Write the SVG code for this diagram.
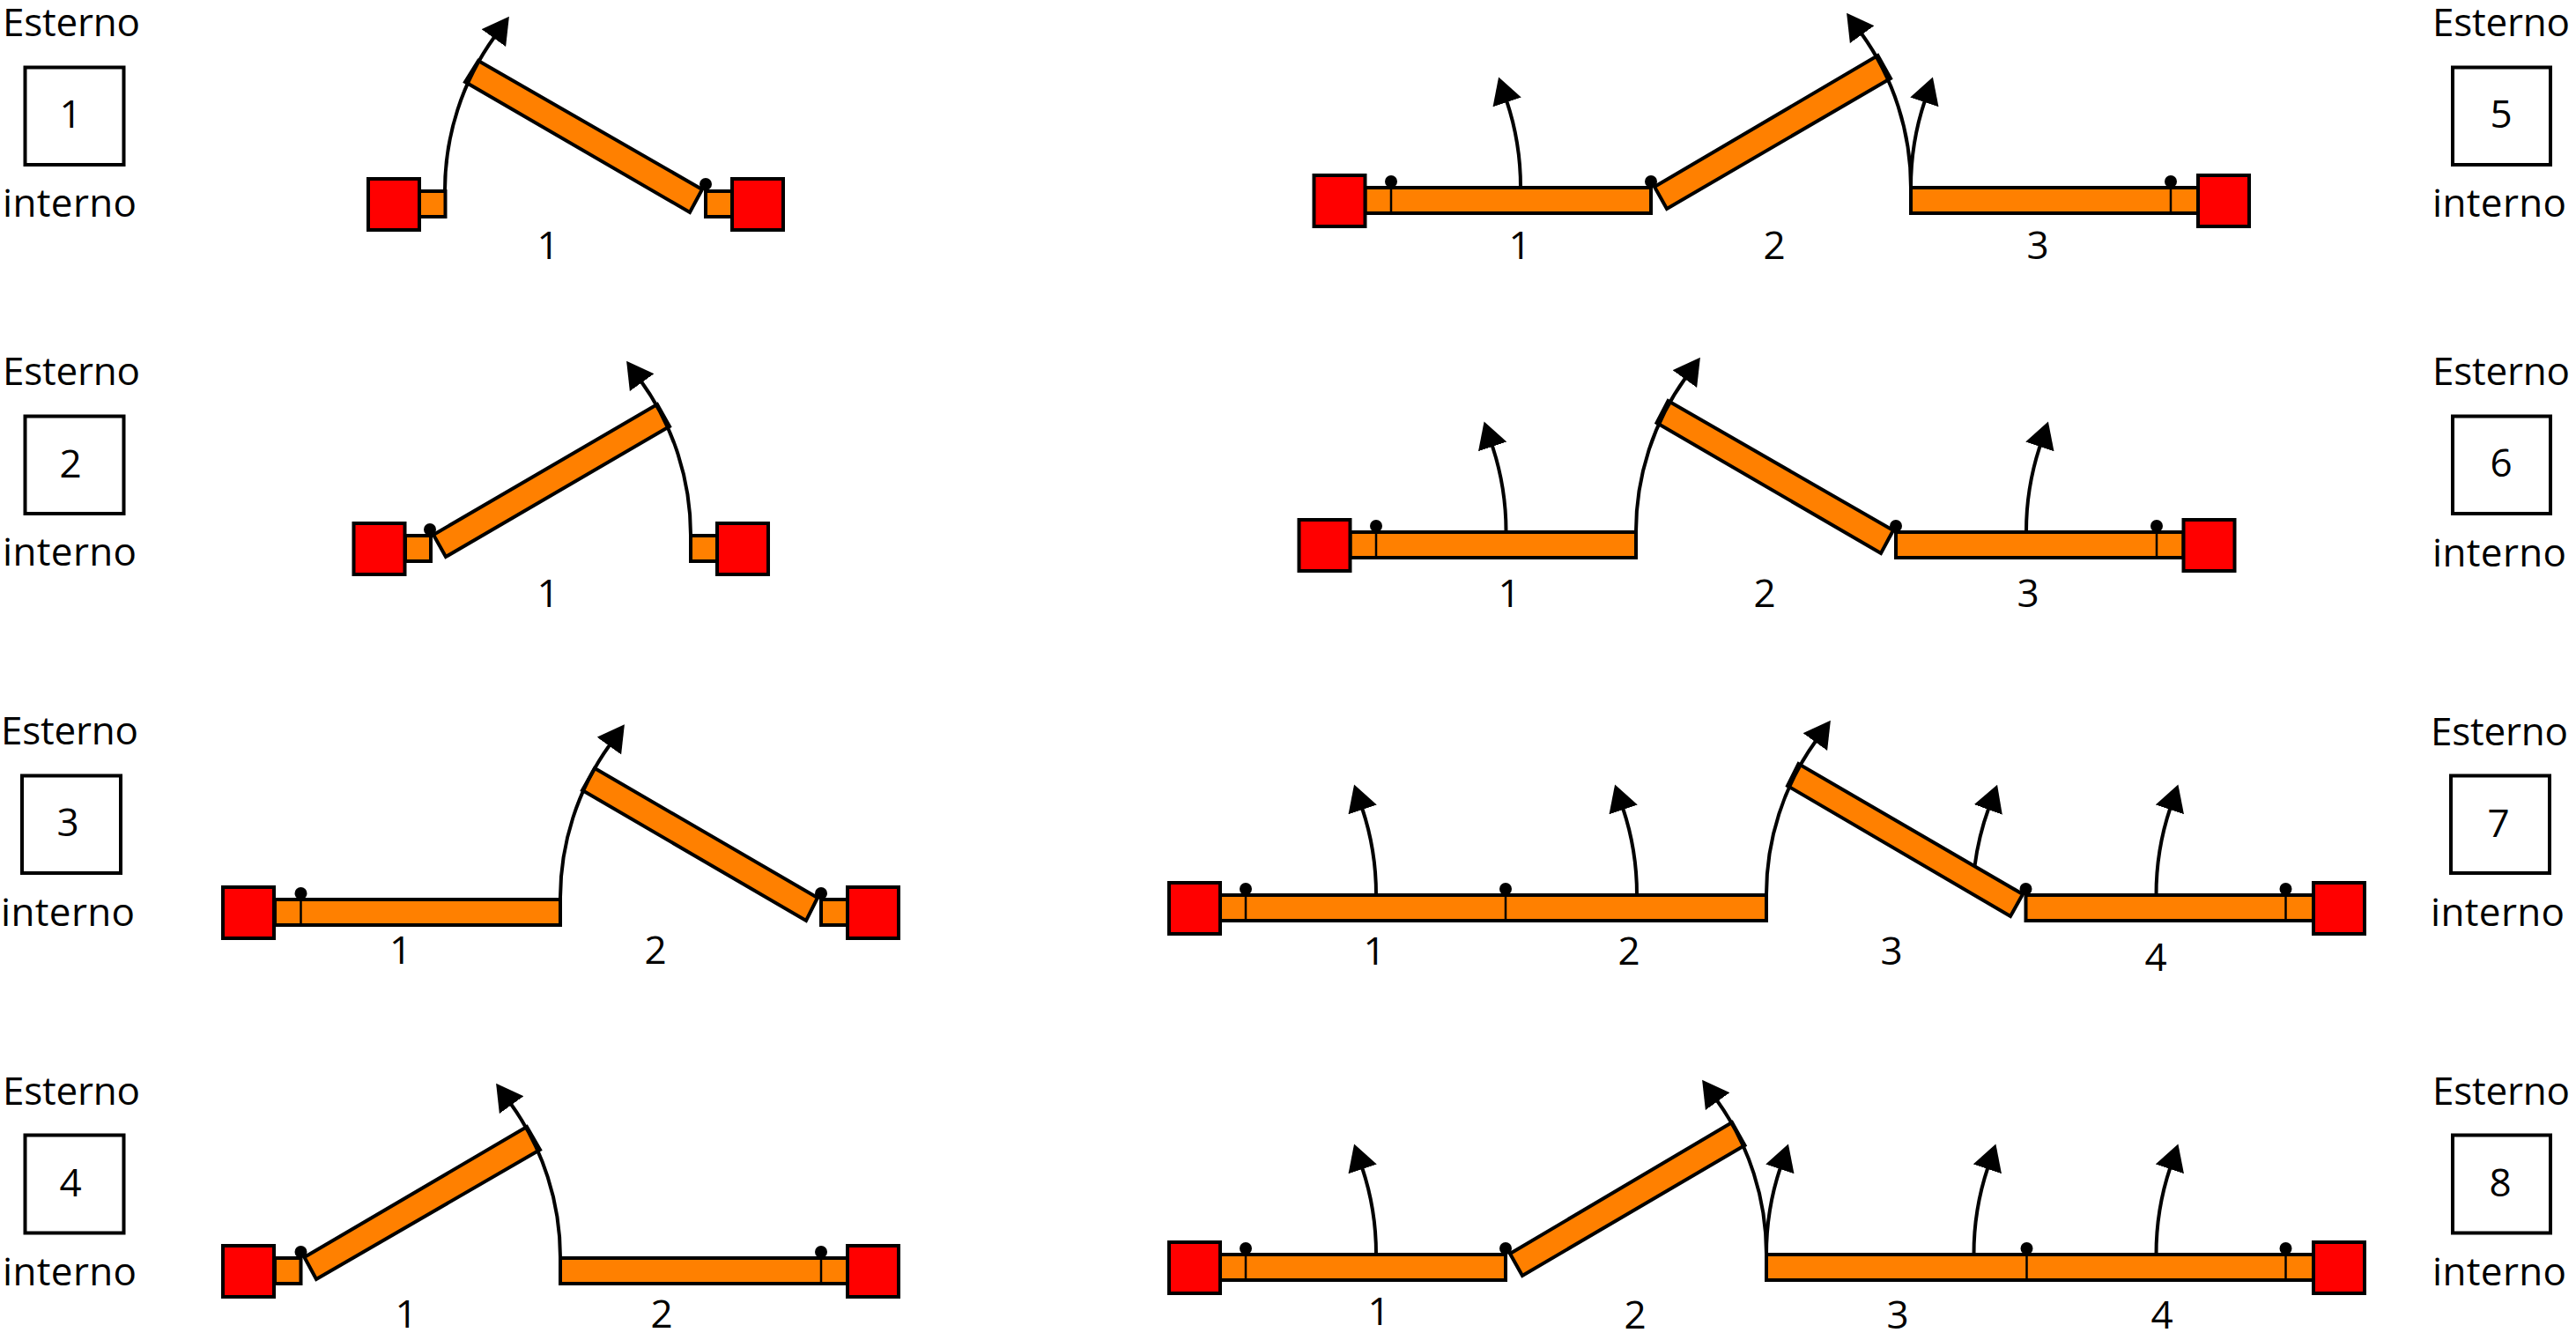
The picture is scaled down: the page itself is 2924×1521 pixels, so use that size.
<svg xmlns="http://www.w3.org/2000/svg" width="2924" height="1521" viewBox="0 0 2924 1521">
<style>
text{font-family:"Open Sans","Noto Sans","Liberation Sans",sans-serif;font-size:44px;fill:#000}
.c{text-anchor:middle}
.b{fill:#fff;stroke:#000;stroke-width:4}
.r{fill:#f00;stroke:#000;stroke-width:4;width:58px;height:58px}
.o{fill:#ff8000;stroke:#000;stroke-width:4;height:29px}
.d{fill:#ff8000;stroke:#000;stroke-width:4;stroke-linejoin:miter}
.h{stroke:#000;stroke-width:2.5;fill:none}
.p{fill:#000}
.a{fill:none;stroke:#000;stroke-width:4;marker-end:url(#ah)}
</style>
<defs>
<marker id="ah" markerUnits="userSpaceOnUse" markerWidth="36" markerHeight="36" refX="2" refY="17" orient="auto">
<path d="M0 0L30 17L0 34Z" fill="#000"/>
</marker>
</defs>
<g id="panel-1">
<text x="3" y="41" textLength="156">Esterno</text><rect class="b" x="28.5" y="76.5" width="112" height="110.5"/><text class="c" x="80" y="145">1</text><text x="3" y="246" textLength="152">interno</text>
<rect class="o" x="476" y="217" width="29.5"/><rect class="o" x="801" y="217" width="30"/>
<rect class="r" x="418" y="203"/><rect class="r" x="831" y="203"/>
<polygon class="d" points="543,69 797,215 783,241 528,93"/><circle class="p" cx="801" cy="209" r="7"/>
<text class="c" x="622" y="294">1</text>
</g>
<g id="panel-2">
<text x="3" y="437" textLength="156">Esterno</text><rect class="b" x="28.5" y="472.5" width="112" height="110.5"/><text class="c" x="80" y="542">2</text><text x="3" y="642" textLength="152">interno</text>
<rect class="o" x="460" y="608" width="29"/><rect class="o" x="784" y="608" width="30"/>
<rect class="r" x="401.5" y="594"/><rect class="r" x="814" y="594"/>
<polygon class="d" points="492,607 506,632 760,484 746,459"/><circle class="p" cx="488" cy="601" r="7"/>
<text class="c" x="622" y="689">1</text>
</g>
<g id="panel-3">
<text x="1" y="845" textLength="156">Esterno</text><rect class="b" x="25" y="880.5" width="112" height="110.5"/><text class="c" x="77" y="949">3</text><text x="1" y="1051" textLength="152">interno</text>
<rect class="o" x="312" y="1021" width="324"/><rect class="o" x="932" y="1021" width="30"/>
<path class="h" d="M341.5 1014V1050"/>
<rect class="r" x="253" y="1007"/><rect class="r" x="962" y="1007"/>
<polygon class="d" points="675,872 928,1019 915,1045 661,897"/><circle class="p" cx="341.5" cy="1014" r="7"/><circle class="p" cx="932" cy="1014" r="7"/>
<text class="c" x="454.5" y="1094">1</text><text class="c" x="744" y="1094">2</text>
</g>
<g id="panel-4">
<text x="3" y="1254" textLength="156">Esterno</text><rect class="b" x="28.5" y="1288.5" width="112" height="111"/><text class="c" x="80" y="1358">4</text><text x="3" y="1459" textLength="152">interno</text>
<rect class="o" x="312" y="1428" width="29.5"/><rect class="o" x="636" y="1428" width="326"/>
<path class="h" d="M932 1421V1457"/>
<rect class="r" x="253" y="1414"/><rect class="r" x="962" y="1414"/>
<polygon class="d" points="345.5,1427 359,1452 613,1305 598,1279"/><circle class="p" cx="341.5" cy="1421" r="7"/><circle class="p" cx="932" cy="1421" r="7"/>
<text class="c" x="461" y="1507">1</text><text class="c" x="751" y="1507">2</text>
</g>
<g id="panel-5">
<text x="2761" y="41" textLength="156">Esterno</text><rect class="b" x="2784" y="76.5" width="111" height="110.5"/><text class="c" x="2839" y="145">5</text><text x="2761" y="246" textLength="152">interno</text>
<rect class="o" x="1549.5" y="213" width="324.5"/><rect class="o" x="2169" y="213" width="326"/>
<path class="h" d="M1579 206V242M2464 206V242"/>
<rect class="r" x="1491.5" y="199"/><rect class="r" x="2495" y="199"/>
<polygon class="d" points="1878,212 1892,237 2146,89 2131.5,63"/><circle class="p" cx="1579" cy="206" r="7"/><circle class="p" cx="1874" cy="206" r="7"/><circle class="p" cx="2464" cy="206" r="7"/>
<text class="c" x="1725" y="294">1</text><text class="c" x="2014" y="294">2</text><text class="c" x="2313" y="294">3</text>
</g>
<g id="panel-6">
<text x="2761" y="437" textLength="156">Esterno</text><rect class="b" x="2784" y="472.5" width="111" height="110.5"/><text class="c" x="2839" y="541">6</text><text x="2761" y="643" textLength="152">interno</text>
<rect class="o" x="1532.5" y="604" width="324.5"/><rect class="o" x="2152" y="604" width="326.5"/>
<path class="h" d="M1562 597V633M2448 597V633"/>
<rect class="r" x="1474.5" y="590"/><rect class="r" x="2478.5" y="590"/>
<polygon class="d" points="1893.5,455 1880.5,480 2135,628 2149,602"/><circle class="p" cx="1562" cy="597" r="7"/><circle class="p" cx="2152" cy="597" r="7"/><circle class="p" cx="2448" cy="597" r="7"/>
<text class="c" x="1713" y="689">1</text><text class="c" x="2003" y="689">2</text><text class="c" x="2302" y="689">3</text>
</g>
<g id="panel-7">
<text x="2759" y="846" textLength="156">Esterno</text><rect class="b" x="2782" y="880.5" width="112" height="110.5"/><text class="c" x="2836" y="950">7</text><text x="2759" y="1051" textLength="152">interno</text>
<rect class="o" x="1385" y="1016" width="620"/><rect class="o" x="2299.5" y="1016" width="326.5"/>
<path class="h" d="M1414 1009V1045M1709 1009V1045M2594.5 1009V1045"/>
<rect class="r" x="1327" y="1002"/><rect class="r" x="2626" y="1002"/>
<polygon class="d" points="2041.5,867 2029,892 2282,1040 2296,1015"/><circle class="p" cx="1414" cy="1009" r="7"/><circle class="p" cx="1709" cy="1009" r="7"/><circle class="p" cx="2299.5" cy="1009" r="7"/><circle class="p" cx="2594.5" cy="1009" r="7"/>
<text class="c" x="1560" y="1095">1</text><text class="c" x="1849" y="1095">2</text><text class="c" x="2147" y="1095">3</text><text class="c" x="2447" y="1102">4</text>
</g>
<g id="panel-8">
<text x="2761" y="1254" textLength="156">Esterno</text><rect class="b" x="2784" y="1288.5" width="111" height="111"/><text class="c" x="2838" y="1358">8</text><text x="2761" y="1459" textLength="152">interno</text>
<rect class="o" x="1385" y="1424" width="324"/><rect class="o" x="2005" y="1424" width="621"/>
<path class="h" d="M1414 1417V1453M2300.5 1417V1453M2594.5 1417V1453"/>
<rect class="r" x="1327" y="1410"/><rect class="r" x="2626" y="1410"/>
<polygon class="d" points="1714,1423 1728,1448 1980.5,1300 1966,1274"/><circle class="p" cx="1414" cy="1417" r="7"/><circle class="p" cx="1709" cy="1417" r="7"/><circle class="p" cx="2300.5" cy="1417" r="7"/><circle class="p" cx="2594.5" cy="1417" r="7"/>
<text class="c" x="1565" y="1504">1</text><text class="c" x="1856" y="1508">2</text><text class="c" x="2154" y="1508">3</text><text class="c" x="2454" y="1508">4</text>
</g>
<g id="connectors">
<path class="a" d="M505 217A298 298 0 0 1 561.5 41.5"/>
<path class="a" d="M784 608A298 298 0 0 0 727.5 432.5"/>
<path class="a" d="M636 1021A298 298 0 0 1 692.5 845"/>
<path class="a" d="M636 1428A298 298 0 0 0 579.5 1252.5"/>
<path class="a" d="M2169 213A298 298 0 0 0 2112.5 37.5"/>
<path class="a" d="M1857 604A298 298 0 0 1 1913.5 428.5"/>
<path class="a" d="M2005 1016A298 298 0 0 1 2061.5 840.5"/>
<path class="a" d="M2005 1424A298 298 0 0 0 1948.5 1248.5"/>
<path class="a" d="M1726 213A308 308 0 0 0 1710 114"/>
<path class="a" d="M2169 213A308 308 0 0 1 2185 114"/>
<path class="a" d="M1709.5 604A308 308 0 0 0 1693.5 505"/>
<path class="a" d="M2300 604A308 308 0 0 1 2316 505"/>
<path class="a" d="M1562 1016A308 308 0 0 0 1546 917"/>
<path class="a" d="M1858 1016A308 308 0 0 0 1842 917"/>
<path class="a" d="M2241.5 983A308 308 0 0 1 2257.5 917"/>
<path class="a" d="M2447.5 1016A308 308 0 0 1 2463.5 917"/>
<path class="a" d="M1562 1424A308 308 0 0 0 1546 1325"/>
<path class="a" d="M2005 1424A308 308 0 0 1 2021 1325"/>
<path class="a" d="M2240.5 1424A308 308 0 0 1 2256.5 1325"/>
<path class="a" d="M2447.5 1424A308 308 0 0 1 2463.5 1325"/>
</g>
</svg>
